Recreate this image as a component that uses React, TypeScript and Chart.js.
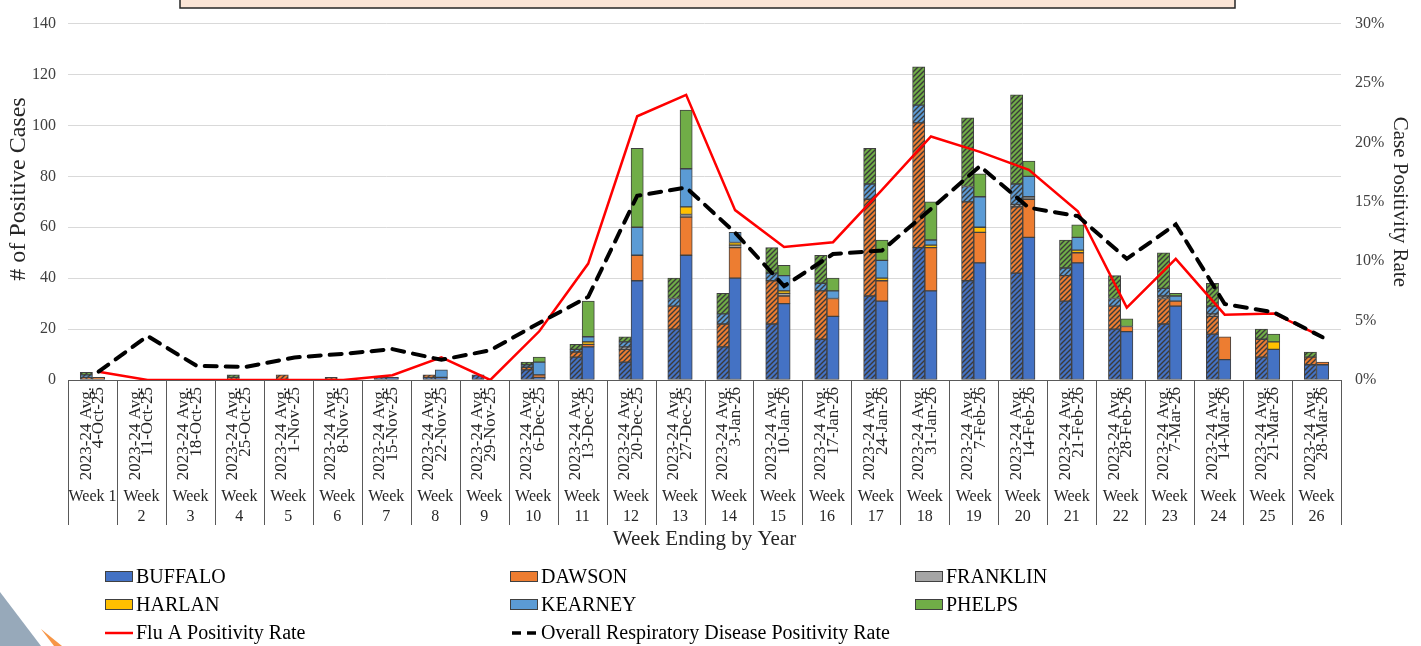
import React, { useEffect, useRef } from 'react';
import { Chart, registerables } from 'chart.js';
Chart.register(...registerables);

const weekDates = ['4-Oct-25','11-Oct-25','18-Oct-25','25-Oct-25','1-Nov-25','8-Nov-25','15-Nov-25','22-Nov-25','29-Nov-25','6-Dec-25','13-Dec-25','20-Dec-25','27-Dec-25','3-Jan-26','10-Jan-26','17-Jan-26','24-Jan-26','31-Jan-26','7-Feb-26','14-Feb-26','21-Feb-26','28-Feb-26','7-Mar-26','14-Mar-26','21-Mar-26','28-Mar-26'];
const weekNumbers = ['1','2','3','4','5','6','7','8','9','10','11','12','13','14','15','16','17','18','19','20','21','22','23','24','25','26'];
const avgLabel = '2023-24 Avg.';

const counties = ['BUFFALO','DAWSON','FRANKLIN','HARLAN','KEARNEY','PHELPS'];
const countyColors = ['#4472C4','#ED7D31','#A5A5A5','#FFC000','#5B9BD5','#70AD47'];

// 2023-24 average (hatched bars)
const avgBuffalo  = [0,0,0,0,0,0,1,1,2,4,9,7,20,13,22,16,33,52,39,42,31,20,22,18,9,6];
const avgDawson   = [1,0,0,1,2,1,0,1,0,1,2,5,9,9,17,19,38,49,31,26,10,9,10,7,7,3];
const avgFranklin = [0,0,0,0,0,0,0,0,0,0,0,1,0,0,0,0,0,0,0,1,0,0,1,1,0,0];
const avgHarlan   = [0,0,0,0,0,0,0,0,0,0,0,0,0,0,0,0,0,0,0,0,0,0,0,0,0,0];
const avgKearney  = [1,0,0,0,0,0,0,0,0,1,1,2,3,4,3,3,6,7,6,8,3,3,3,3,0,0];
const avgPhelps   = [1,0,0,1,0,0,0,0,0,1,2,2,8,8,10,11,14,15,27,35,11,9,14,9,4,2];

// current season (solid bars)
const curBuffalo  = [0,0,0,0,0,0,1,1,0,1,13,39,49,40,30,25,31,35,46,56,46,19,29,8,12,6];
const curDawson   = [1,0,0,0,0,0,0,0,0,1,1,10,15,12,3,7,8,17,12,15,4,2,2,9,0,1];
const curFranklin = [0,0,0,0,0,0,0,0,0,0,0,0,1,1,1,0,0,0,0,1,0,0,0,0,0,0];
const curHarlan   = [0,0,0,0,0,0,0,0,0,0,1,0,3,1,1,0,1,1,2,0,1,0,0,0,3,0];
const curKearney  = [0,0,0,0,0,0,0,3,0,5,2,11,15,4,6,3,7,2,12,8,5,0,2,0,0,0];
const curPhelps   = [0,0,0,0,0,0,0,0,0,2,14,31,23,0,4,5,8,15,9,6,5,3,1,0,3,0];

// positivity rates (%)
const fluARate    = [0.7,0,0,0,0,0,0.4,1.9,0,4.1,9.8,22.2,24.0,14.3,11.2,11.6,16.0,20.5,19.2,17.7,14.2,6.1,10.2,5.5,5.6,3.6];
const overallRate = [0.7,3.7,1.2,1.1,1.9,2.2,2.6,1.7,2.5,4.8,7.0,15.5,16.2,12.4,7.9,10.6,10.9,14.4,18.0,14.5,13.8,10.2,13.1,6.4,5.7,3.6];

// position of the two bars within each week (fraction of a week slot)
const AVG_SHIFT = -0.125;
const CUR_SHIFT = 0.125;

const FONT = '"Liberation Serif", "Times New Roman", serif';

function hatch(color: string): CanvasPattern | string {
  const c = document.createElement('canvas');
  c.width = 5; c.height = 5;
  const g = c.getContext('2d');
  if (!g) return color;
  g.fillStyle = color;
  g.fillRect(0, 0, 5, 5);
  g.strokeStyle = '#3a3a3a';
  g.lineWidth = 1.4;
  g.beginPath();
  g.moveTo(-1, 6); g.lineTo(6, -1);
  g.moveTo(-1, 1); g.lineTo(1, -1);
  g.moveTo(4, 6); g.lineTo(6, 4);
  g.stroke();
  return g.createPattern(c, 'repeat') || color;
}

const toPoints = (arr: number[], shift: number) =>
  arr.map((v, i) => ({ x: i + shift, y: v === 0 ? null : v }));

const decorPlugin = {
  id: 'decor',
  beforeDraw(chart: any) {
    const ctx = chart.ctx;
    ctx.save();
    // title box (cut off at top)
    ctx.fillStyle = '#FBE5D6';
    ctx.fillRect(180, -10, 1055, 18);
    ctx.strokeStyle = '#262626';
    ctx.lineWidth = 1.5;
    ctx.strokeRect(180, -10, 1055, 18);
    // bottom-left decorative shapes
    ctx.fillStyle = '#97A9BA';
    ctx.beginPath();
    ctx.moveTo(0, 592); ctx.lineTo(41, 646); ctx.lineTo(0, 646); ctx.closePath();
    ctx.fill();
    ctx.fillStyle = '#F79646';
    ctx.beginPath();
    ctx.moveTo(41, 629); ctx.lineTo(62, 646); ctx.lineTo(54, 646); ctx.closePath();
    ctx.fill();
    ctx.restore();
  },
  afterDraw(chart: any) {
    const ctx = chart.ctx;
    const xs = chart.scales.x;
    const area = chart.chartArea;
    ctx.save();
    // left axis title
    ctx.save();
    ctx.translate(19, 189);
    ctx.rotate(-Math.PI / 2);
    ctx.fillStyle = '#262626';
    ctx.font = `24px ${FONT}`;
    ctx.textAlign = 'center';
    ctx.textBaseline = 'middle';
    ctx.fillText('# of Positive Cases', 0, 0);
    ctx.restore();
    // x axis line & week separators
    ctx.strokeStyle = '#595959';
    ctx.lineWidth = 1;
    ctx.beginPath();
    ctx.moveTo(xs.left, Math.round(area.bottom) + 0.5);
    ctx.lineTo(xs.right, Math.round(area.bottom) + 0.5);
    const n = weekNumbers.length;
    const w = (xs.right - xs.left) / n;
    for (let i = 0; i <= n; i++) {
      const bx = Math.round(xs.left + i * w) + 0.5;
      ctx.moveTo(bx, area.bottom);
      ctx.lineTo(bx, 525);
    }
    ctx.stroke();
    // week labels
    ctx.fillStyle = '#262626';
    ctx.font = `16px ${FONT}`;
    ctx.textAlign = 'center';
    ctx.textBaseline = 'middle';
    for (let i = 0; i < n; i++) {
      const cx = xs.getPixelForValue(i);
      if (i === 0) {
        ctx.fillText('Week ' + weekNumbers[i], cx, 497);
      } else {
        ctx.fillText('Week', cx, 497);
        ctx.fillText(weekNumbers[i], cx, 517);
      }
    }
    // legend
    ctx.font = `20px ${FONT}`;
    ctx.textAlign = 'left';
    ctx.textBaseline = 'middle';
    const colX = [105, 510, 915];
    const rowY = [577, 605, 633];
    counties.forEach((name, i) => {
      const x = colX[i % 3];
      const y = rowY[Math.floor(i / 3)];
      ctx.fillStyle = countyColors[i];
      ctx.fillRect(x, y - 6, 28, 11);
      ctx.strokeStyle = '#404040';
      ctx.lineWidth = 1;
      ctx.strokeRect(x + 0.5, y - 5.5, 27, 10);
      ctx.fillStyle = '#000';
      ctx.fillText(name, x + 31, y + 1);
    });
    // line legends
    ctx.strokeStyle = '#FF0000';
    ctx.lineWidth = 2.5;
    ctx.beginPath();
    ctx.moveTo(colX[0], rowY[2]); ctx.lineTo(colX[0] + 28, rowY[2]);
    ctx.stroke();
    ctx.fillStyle = '#000';
    ctx.fillText('Flu A Positivity Rate', colX[0] + 31, rowY[2] + 1);
    ctx.strokeStyle = '#000';
    ctx.lineWidth = 3.5;
    ctx.setLineDash([9, 6]);
    ctx.beginPath();
    ctx.moveTo(colX[1] + 2, rowY[2]); ctx.lineTo(colX[1] + 28, rowY[2]);
    ctx.stroke();
    ctx.setLineDash([]);
    ctx.fillText('Overall Respiratory Disease Positivity Rate', colX[1] + 31, rowY[2] + 1);
    ctx.restore();
  },
};

export default function App() {
  const ref = useRef<HTMLCanvasElement | null>(null);
  useEffect(() => {
    document.body.style.margin = '0';
    document.body.style.overflow = 'hidden';
    const canvas = ref.current;
    if (!canvas) return;

    const avgSeries = [avgBuffalo, avgDawson, avgFranklin, avgHarlan, avgKearney, avgPhelps];
    const curSeries = [curBuffalo, curDawson, curFranklin, curHarlan, curKearney, curPhelps];

    const barCommon = {
      type: 'bar',
      borderColor: '#404040',
      borderWidth: 1,
      borderSkipped: false,
      grouped: false,
      categoryPercentage: 1.0,
      barPercentage: 1.0,
      xAxisID: 'xb',
      yAxisID: 'y',
      order: 2,
    };

    const barDatasets: any[] = [];
    avgSeries.forEach((arr, i) => {
      barDatasets.push({
        ...barCommon,
        label: counties[i] + ' (2023-24 Avg.)',
        data: toPoints(arr, AVG_SHIFT),
        backgroundColor: hatch(countyColors[i]),
        stack: 'avg',
      });
    });
    curSeries.forEach((arr, i) => {
      barDatasets.push({
        ...barCommon,
        label: counties[i],
        data: toPoints(arr, CUR_SHIFT),
        backgroundColor: countyColors[i],
        stack: 'cur',
      });
    });

    const lineDatasets: any[] = [
      {
        type: 'line',
        label: 'Flu A Positivity Rate',
        data: fluARate.map((v, i) => ({ x: i + CUR_SHIFT, y: v })),
        borderColor: '#FF0000',
        borderWidth: 2.5,
        pointRadius: 0,
        fill: false,
        tension: 0,
        xAxisID: 'xb',
        yAxisID: 'y2',
        order: 1,
      },
      {
        type: 'line',
        label: 'Overall Respiratory Disease Positivity Rate',
        data: overallRate.map((v, i) => ({ x: i + CUR_SHIFT, y: v })),
        borderColor: '#000000',
        borderWidth: 4,
        borderDash: [12, 9],
        borderCapStyle: 'round',
        pointRadius: 0,
        fill: false,
        tension: 0,
        xAxisID: 'xb',
        yAxisID: 'y2',
        order: 0,
      },
    ];

    const chart = new Chart(canvas, {
      type: 'bar',
      data: {
        labels: weekDates.map((d) => [avgLabel, d]),
        datasets: [...barDatasets, ...lineDatasets],
      },
      options: {
        animation: false,
        responsive: false,
        maintainAspectRatio: false,
        layout: { padding: { top: 18, left: 0, right: 0, bottom: 0 } },
        plugins: {
          legend: { display: false },
          tooltip: { enabled: false },
          title: { display: false },
        },
        scales: {
          x: {
            type: 'category',
            offset: true,
            grid: { display: false, drawTicks: false },
            border: { display: false },
            ticks: {
              autoSkip: false,
              minRotation: 90,
              maxRotation: 90,
              padding: 7,
              labelOffset: -6.4,
              color: '#262626',
              font: { family: FONT, size: 17, lineHeight: 0.75 },
            },
            title: {
              display: true,
              text: 'Week Ending by Year',
              color: '#262626',
              font: { family: FONT, size: 21 },
              padding: { top: 0, bottom: 94 },
            },
            afterFit: (s: any) => { s.width = s.width; s.height = 266; },
          },
          xb: {
            type: 'linear',
            display: false,
            stacked: true,
            min: -0.5,
            max: 25.5,
            offset: false,
          },
          y: {
            type: 'linear',
            position: 'left',
            stacked: true,
            min: 0,
            max: 140,
            ticks: {
              stepSize: 20,
              padding: 12,
              color: '#404040',
              font: { family: FONT, size: 16 },
            },
            grid: { color: '#D9D9D9', lineWidth: 1, drawTicks: false },
            border: { display: false },
            title: { display: false },
            afterFit: (s: any) => { s.width = 68; },
          },
          y2: {
            type: 'linear',
            position: 'right',
            stacked: false,
            min: 0,
            max: 30,
            ticks: {
              stepSize: 5,
              padding: 14,
              color: '#404040',
              font: { family: FONT, size: 16 },
              callback: (v: any) => v + '%',
            },
            grid: { display: false, drawTicks: false },
            border: { display: false },
            title: {
              display: true,
              text: 'Case Positivity Rate',
              color: '#262626',
              font: { family: FONT, size: 21 },
              padding: { top: 9, bottom: 0 },
            },
            afterFit: (s: any) => { s.width = 80; },
          },
        },
      } as any,
      plugins: [decorPlugin],
    });
    return () => chart.destroy();
  }, []);

  return (
    <div style={{ width: 1421, height: 646, position: 'relative', background: '#fff' }}>
      <canvas ref={ref} width={1421} height={646} style={{ display: 'block' }} />
    </div>
  );
}
